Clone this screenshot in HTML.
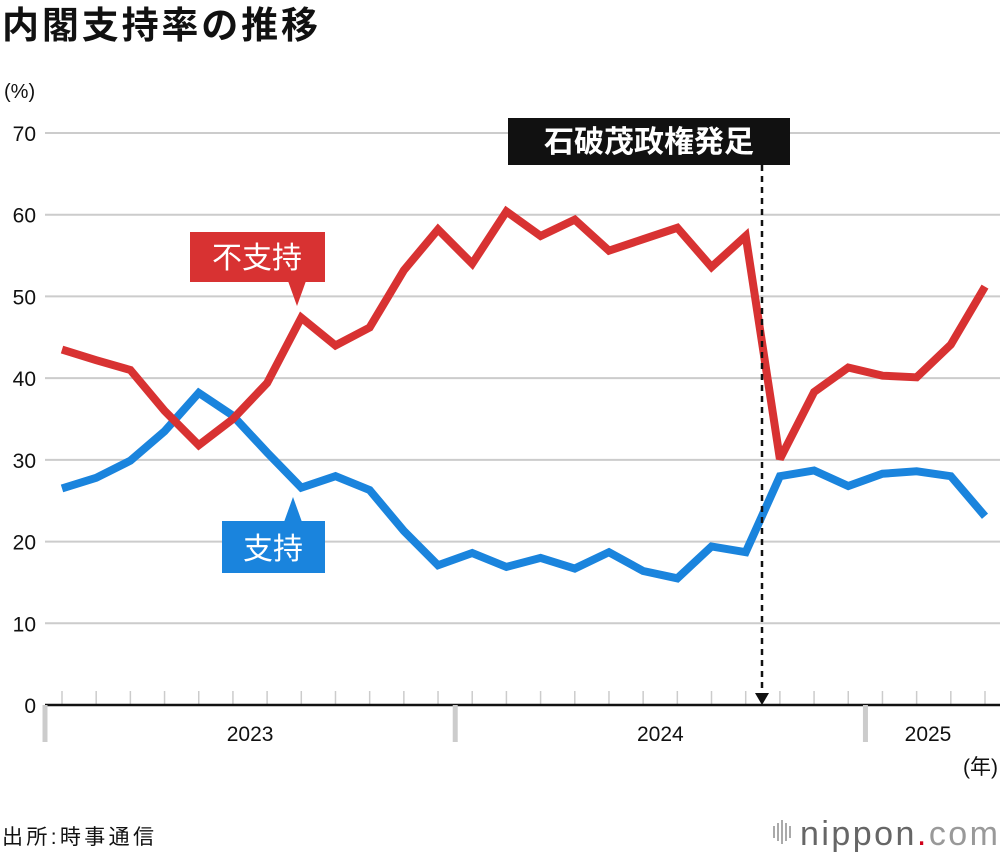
<!DOCTYPE html>
<html><head><meta charset="utf-8">
<style>
body{margin:0;background:#fff;}
svg{display:block;font-family:"Liberation Sans","Noto Sans CJK JP",sans-serif;}
</style></head>
<body>
<svg id="chart" width="1000" height="856" viewBox="0 0 1000 856">
<text x="2" y="38" font-size="37" font-weight="bold" fill="#111" textLength="316">内閣支持率の推移</text>
<text x="4" y="98" font-size="20" fill="#111">(%)</text>
<g id="grid"></g>
<g id="axis"></g>
<g id="series"></g>
<g>
<line x1="762" y1="165" x2="762" y2="697" stroke="#111" stroke-width="2.5" stroke-dasharray="6,5"/>
<path d="M755,693 L762,705 L769,693 Z" fill="#111"/>
<rect x="508" y="118" width="282" height="47" fill="#111"/>
<text x="649" y="152" font-size="30" font-weight="bold" fill="#fff" text-anchor="middle">石破茂政権発足</text>
</g>
<g>
<rect x="190" y="232" width="135" height="50" fill="#d83232"/>
<path d="M288,281 L297,306 L306,281 Z" fill="#d83232"/>
<text x="257" y="268" font-size="30" fill="#fff" text-anchor="middle">不支持</text>
</g>
<g>
<rect x="222" y="521" width="103" height="52" fill="#1a84dd"/>
<path d="M284,522 L293,497 L302,522 Z" fill="#1a84dd"/>
<text x="273" y="559" font-size="30" fill="#fff" text-anchor="middle">支持</text>
</g>
<text x="2" y="844" font-size="21" fill="#111" textLength="152">出所:時事通信</text>
<g>
<g fill="#aaa"><rect x="773" y="826" width="2" height="12"/><rect x="777" y="823" width="2" height="18"/><rect x="781" y="820" width="2" height="24"/><rect x="785" y="823" width="2" height="18"/><rect x="789" y="826" width="2" height="12"/></g>
<text x="800" y="845" font-size="34" fill="#666" textLength="198">nippon<tspan fill="#d0021b">.</tspan><tspan fill="#999">com</tspan></text>
</g>
</svg>
<script>
const months = 28;
const disapprove = [43.5,42.2,41,36,31.8,35,39.4,47.4,44,46.2,53.2,58.2,54,60.4,57.4,59.4,55.6,57,58.4,53.6,57.4,30.1,38.3,41.3,40.3,40.1,44.1,51.2];
const approve = [26.5,27.8,29.9,33.5,38.2,35.4,30.9,26.6,28.0,26.3,21.3,17.1,18.6,16.9,18.0,16.7,18.7,16.4,15.5,19.4,18.7,28.0,28.7,26.8,28.3,28.6,28.0,23.1];
const yTicks = [0,10,20,30,40,50,60,70];
const years = ["2023","2024","2025"];
const yearStartIdx = [0,12,24];

const NS="http://www.w3.org/2000/svg";
const x = i => 62 + i*(923/27);
const y = v => 705 - v*(572/70);
function mk(tag,attrs,parent){const e=document.createElementNS(NS,tag);for(const k in attrs)e.setAttribute(k,attrs[k]);parent.appendChild(e);return e;}
const grid=document.getElementById('grid'), axis=document.getElementById('axis'), series=document.getElementById('series');
yTicks.forEach(t=>{
  if(t>0){const l=mk('line',{x1:45,x2:1000,y1:y(t),y2:y(t),stroke:'#ccc','stroke-width':2},grid);
  
  }
  const tx=mk('text',{x:36,y:y(t)+8,'font-size':21,'text-anchor':'end',fill:'#111'},grid);
  tx.textContent=t;
  
  
});
for(let i=0;i<months;i++){
  const l=mk('line',{x1:x(i),x2:x(i),y1:691,y2:705,stroke:'#ccc','stroke-width':1.5},axis);
  
  
}
const al=mk('line',{x1:45,x2:1000,y1:705,y2:705,stroke:'#111','stroke-width':2.5},axis);


years.forEach((yr,k)=>{
  const sx=x(yearStartIdx[k])-17;
  const s=mk('line',{x1:sx,x2:sx,y1:705,y2:742,stroke:'#ccc','stroke-width':5},axis);
  
  
  const endIdx = k<years.length-1 ? yearStartIdx[k+1] : months;
  const ex = k<years.length-1 ? x(endIdx)-17 : 1000;
  const cx = k<years.length-1 ? (sx+ex)/2 : 928;
  const t=mk('text',{x:cx,y:741,'font-size':21,'text-anchor':'middle',fill:'#111'},axis);
  t.textContent=yr;
  
  
});
const nen=mk('text',{x:998,y:774,'font-size':21,'text-anchor':'end',fill:'#111'},axis);
nen.textContent='(年)';


function line(vals,color,name){
  const p=mk('polyline',{points:vals.map((v,i)=>x(i)+','+y(v)).join(' '),fill:'none',stroke:color,'stroke-width':8,'stroke-linejoin':'miter','stroke-miterlimit':3},series);
  
  
}
line(approve,'#1a84dd','approve-line');
line(disapprove,'#d83232','disapprove-line');
</script>
</body></html>
